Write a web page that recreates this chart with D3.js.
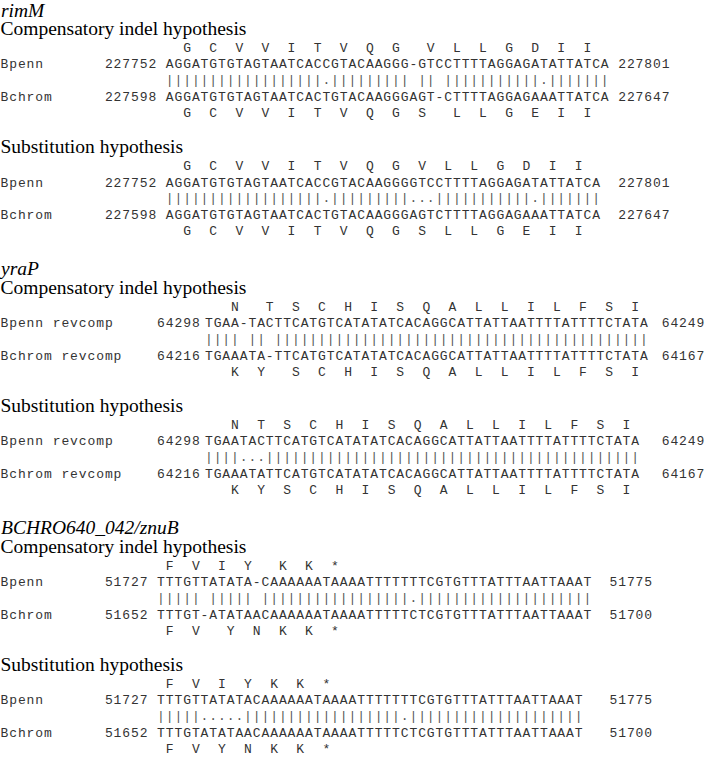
<!DOCTYPE html>
<html><head><meta charset="utf-8">
<script src="https://cdn.jsdelivr.net/npm/d3@7"></script>
<style>
html,body{margin:0;padding:0;background:#fff;}
svg{display:block;}
text{white-space:pre;}
</style></head><body>
<script>
// ---------- data ----------
const geneNames = ["rimM", "yraP", "BCHRO640_042/znuB"];
const hypothesisNames = ["Compensatory indel hypothesis", "Substitution hypothesis"];

const rimM_labels = ["Bpenn", "Bchrom"];
const rimM_starts = ["227752", "227598"];
const rimM_ends = ["227801", "227647"];
const rimM_indel_seqs = ["AGGATGTGTAGTAATCACCGTACAAGGG-GTCCTTTTAGGAGATATTATCA",
                         "AGGATGTGTAGTAATCACTGTACAAGGGAGT-CTTTTAGGAGAAATTATCA"];
const rimM_indel_match = "||||||||||" + "||||||||" + "." + "|||||||||" + " " + "||" + " " + "|||||||||||" + "." + "|||||||";
const rimM_indel_aa = ["  G  C  V  V  I  T  V  Q  G   V  L  L  G  D  I  I",
                       "  G  C  V  V  I  T  V  Q  G  S   L  L  G  E  I  I"];
const rimM_subst_seqs = ["AGGATGTGTAGTAATCACCGTACAAGGGGTCCTTTTAGGAGATATTATCA",
                         "AGGATGTGTAGTAATCACTGTACAAGGGAGTCTTTTAGGAGAAATTATCA"];
const rimM_subst_match = "||||||||||" + "||||||||" + "." + "|||||||||" + "..." + "|||||||||||" + "." + "|||||||";
const rimM_subst_aa = ["  G  C  V  V  I  T  V  Q  G  V  L  L  G  D  I  I",
                       "  G  C  V  V  I  T  V  Q  G  S  L  L  G  E  I  I"];

const yraP_labels = ["Bpenn revcomp", "Bchrom revcomp"];
const yraP_starts = ["64298", "64216"];
const yraP_ends = ["64249", "64167"];
const yraP_indel_seqs = ["TGAA-TACTTCATGTCATATATCACAGGCATTATTAATTTTATTTTCTATA",
                         "TGAAATA-TTCATGTCATATATCACAGGCATTATTAATTTTATTTTCTATA"];
const yraP_indel_match = "||||" + " " + "||" + " " + "||||||||||" + "||||||||||" + "||||||||||" + "||||||||||" + "|||";
const yraP_indel_aa = ["   N   T  S  C  H  I  S  Q  A  L  L  I  L  F  S  I",
                       "   K  Y   S  C  H  I  S  Q  A  L  L  I  L  F  S  I"];
const yraP_subst_seqs = ["TGAATACTTCATGTCATATATCACAGGCATTATTAATTTTATTTTCTATA",
                         "TGAAATATTCATGTCATATATCACAGGCATTATTAATTTTATTTTCTATA"];
const yraP_subst_match = "||||" + "..." + "||||||||||" + "||||||||||" + "||||||||||" + "||||||||||" + "|||";
const yraP_subst_aa = ["   N  T  S  C  H  I  S  Q  A  L  L  I  L  F  S  I",
                       "   K  Y  S  C  H  I  S  Q  A  L  L  I  L  F  S  I"];

const znuB_labels = ["Bpenn", "Bchrom"];
const znuB_starts = ["51727", "51652"];
const znuB_ends = ["51775", "51700"];
const znuB_indel_seqs = ["TTTGTTATATA-CAAAAAATAAAATTTTTTTCGTGTTTATTTAATTAAAT",
                         "TTTGT-ATATAACAAAAAATAAAATTTTTCTCGTGTTTATTTAATTAAAT"];
const znuB_indel_match = "|||||" + " " + "|||||" + " " + "||||||||||" + "|||||||" + "." + "||||||||||" + "||||||||||";
const znuB_indel_aa = [" F  V  I  Y   K  K  *",
                       " F  V   Y  N  K  K  *"];
const znuB_subst_seqs = ["TTTGTTATATACAAAAAATAAAATTTTTTTCGTGTTTATTTAATTAAAT",
                         "TTTGTATATAACAAAAAATAAAATTTTTCTCGTGTTTATTTAATTAAAT"];
const znuB_subst_match = "|||||" + "....." + "||||||||||" + "||||||||" + "." + "||||||||||" + "||||||||||";
const znuB_subst_aa = [" F  V  I  Y  K  K  *",
                       " F  V  Y  N  K  K  *"];

// ---------- table built from the arrays ----------
const genes = [
  {name: geneNames[0], labels: rimM_labels, starts: rimM_starts, ends: rimM_ends, cols: {num: 12, seq: 19, end: 71},
   hyps: [{seqs: rimM_indel_seqs, match: rimM_indel_match, aa: rimM_indel_aa},
          {seqs: rimM_subst_seqs, match: rimM_subst_match, aa: rimM_subst_aa}]},
  {name: geneNames[1], labels: yraP_labels, starts: yraP_starts, ends: yraP_ends, cols: {num: 18, seq: 23.5, end: 76},
   hyps: [{seqs: yraP_indel_seqs, match: yraP_indel_match, aa: yraP_indel_aa},
          {seqs: yraP_subst_seqs, match: yraP_subst_match, aa: yraP_subst_aa}]},
  {name: geneNames[2], labels: znuB_labels, starts: znuB_starts, ends: znuB_ends, cols: {num: 12, seq: 18, end: 70},
   hyps: [{seqs: znuB_indel_seqs, match: znuB_indel_match, aa: znuB_indel_aa},
          {seqs: znuB_subst_seqs, match: znuB_subst_match, aa: znuB_subst_aa}]}
];

// ---------- drawing ----------
const W = 716, H = 758;
const PITCH = 8.7, MONO = 13;
const colX = d3.scaleLinear().domain([0, 1]).range([0.5, 0.5 + PITCH]);
const svg = d3.select("body").append("svg").attr("width", W).attr("height", H);
svg.append("rect").attr("width", W).attr("height", H).attr("fill", "#fff");

function mono(g, str, col, y, fill) {
  g.append("text").attr("x", colX(col)).attr("y", y)
    .attr("xml:space", "preserve")
    .style("font-family", "'Liberation Mono', monospace")
    .style("font-size", MONO + "px")
    .style("letter-spacing", (PITCH - 0.6 * MONO) + "px")
    .attr("fill", fill || "#333")
    .text(str);
}
function serif(g, str, y, italic) {
  g.append("text").attr("x", italic ? 1 : 0.5).attr("y", y)
    .style("font-family", "'Liberation Serif', 'Times New Roman', serif")
    .style("font-size", "19.5px")
    .style("font-style", italic ? "italic" : "normal")
    .attr("fill", "#000")
    .text(str);
}

const ROW = 16.3;
let y = 10; // center of current line
genes.forEach((gene, gi) => {
  const g = svg.append("g").attr("class", "gene");
  if (gi > 0) y += 38;
  serif(g, gene.name, y + 6.5, true);
  gene.hyps.forEach((h, hi) => {
    y += (hi === 0 ? 19.5 : 35);
    serif(g, hypothesisNames[hi], y + 5.5, false);
    y += 18;
    const c = gene.cols;
    mono(g, h.aa[0], c.seq, y + 4.5);
    y += ROW;
    mono(g, gene.labels[0], 0, y + 4.5);
    mono(g, gene.starts[0], c.num, y + 4.5);
    mono(g, h.seqs[0], c.seq, y + 4.5);
    mono(g, gene.ends[0], c.end, y + 4.5);
    y += ROW;
    mono(g, h.match, c.seq, y + 4, "#555");
    y += ROW;
    mono(g, gene.labels[1], 0, y + 4.5);
    mono(g, gene.starts[1], c.num, y + 4.5);
    mono(g, h.seqs[1], c.seq, y + 4.5);
    mono(g, gene.ends[1], c.end, y + 4.5);
    y += ROW;
    mono(g, h.aa[1], c.seq, y + 4.5);
  });
});
</script>
</body></html>
